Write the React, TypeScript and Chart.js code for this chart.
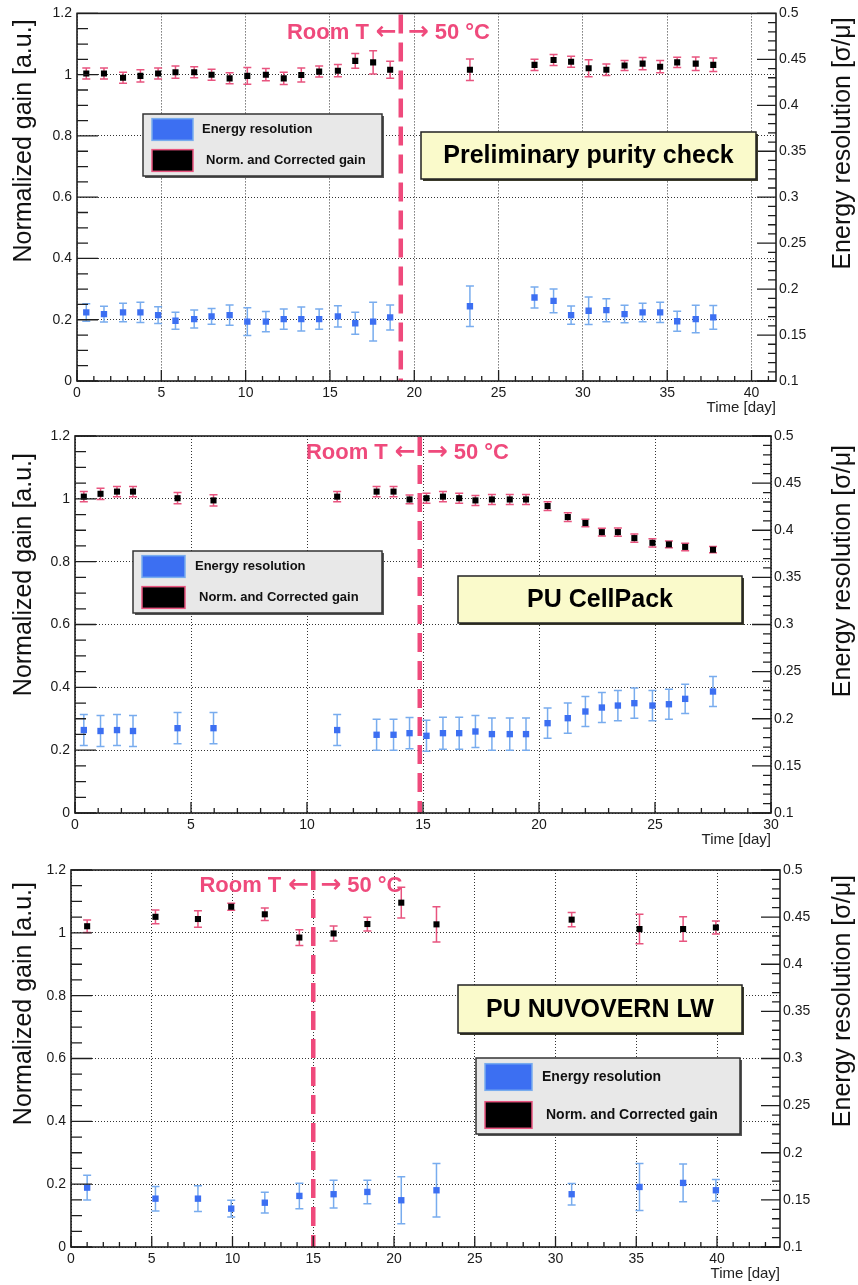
import React, { useEffect, useRef } from "react";
import { Chart, registerables } from "chart.js";

Chart.register(...registerables);
Chart.defaults.font.family = "'Liberation Sans', Arial, Helvetica, sans-serif";

// ---------------- DATA ----------------
const seriesLabels = ["Energy resolution", "Norm. and Corrected gain"];
const panelTitles = ["Preliminary purity check", "PU CellPack", "PU NUVOVERN LW"];
const gainAxisTitle = "Normalized gain [a.u.]";
const resAxisTitle = "Energy resolution [σ/μ]";
const timeAxisTitle = "Time [day]";
const roomLabel = "Room T";
const hotLabel = "50 °C";
const leftArrow = "←";
const rightArrow = "→";

const gainTicks = [0, 0.2, 0.4, 0.6, 0.8, 1, 1.2];
const gainTickLabels = ["0", "0.2", "0.4", "0.6", "0.8", "1", "1.2"];
const resTicks = [0.1, 0.15, 0.2, 0.25, 0.3, 0.35, 0.4, 0.45, 0.5];
const resTickLabels = ["0.1", "0.15", "0.2", "0.25", "0.3", "0.35", "0.4", "0.45", "0.5"];
const dayTicks40 = [0, 5, 10, 15, 20, 25, 30, 35, 40];
const dayTickLabels40 = ["0", "5", "10", "15", "20", "25", "30", "35", "40"];
const dayTicks30 = [0, 5, 10, 15, 20, 25, 30];
const dayTickLabels30 = ["0", "5", "10", "15", "20", "25", "30"];

const switchDays = [19.2, 14.86, 15.0];

// Panel 1: Preliminary purity check
const p1Days = [0.55, 1.6, 2.73, 3.76, 4.81, 5.84, 6.95, 7.98, 9.05, 10.1, 11.2, 12.26, 13.3, 14.36, 15.47, 16.5, 17.56, 18.57, 23.3, 27.13, 28.26, 29.3, 30.34, 31.39, 32.47, 33.54, 34.58, 35.59, 36.69, 37.73];
const p1Gain = [1.004, 1.004, 0.99, 0.996, 1.004, 1.008, 1.008, 1.0, 0.988, 0.996, 1.0, 0.988, 0.999, 1.01, 1.013, 1.045, 1.04, 1.016, 1.016, 1.032, 1.048, 1.042, 1.021, 1.016, 1.03, 1.036, 1.026, 1.04, 1.036, 1.032];
const p1GainErr = [0.018, 0.018, 0.018, 0.02, 0.018, 0.02, 0.018, 0.018, 0.018, 0.027, 0.02, 0.02, 0.023, 0.018, 0.02, 0.024, 0.038, 0.028, 0.035, 0.018, 0.018, 0.018, 0.028, 0.019, 0.016, 0.02, 0.02, 0.017, 0.022, 0.022];
const p1Res = [0.1746, 0.1728, 0.1746, 0.1746, 0.1717, 0.1656, 0.1674, 0.1703, 0.1717, 0.1646, 0.1646, 0.1674, 0.1674, 0.1674, 0.1703, 0.1628, 0.1646, 0.1692, 0.1814, 0.1908, 0.1872, 0.1717, 0.1764, 0.1771, 0.1728, 0.1746, 0.1746, 0.165, 0.1674, 0.1692];
const p1ResErr = [0.0095, 0.0085, 0.01, 0.011, 0.009, 0.0093, 0.0098, 0.0086, 0.011, 0.015, 0.011, 0.011, 0.013, 0.011, 0.0116, 0.012, 0.021, 0.0136, 0.022, 0.0115, 0.013, 0.01, 0.015, 0.0125, 0.0095, 0.01, 0.011, 0.011, 0.015, 0.013];

// Panel 2: PU CellPack
const p2Days = [0.38, 1.1, 1.81, 2.5, 4.42, 5.97, 11.3, 13.0, 13.73, 14.42, 15.15, 15.86, 16.56, 17.26, 17.97, 18.74, 19.44, 20.37, 21.24, 22.0, 22.71, 23.4, 24.11, 24.89, 25.6, 26.3, 27.5];
const p2Gain = [1.007, 1.016, 1.023, 1.023, 1.002, 0.995, 1.007, 1.023, 1.023, 0.998, 1.002, 1.007, 1.002, 0.995, 0.998, 0.998, 0.998, 0.977, 0.942, 0.923, 0.894, 0.894, 0.875, 0.86, 0.855, 0.847, 0.838];
const p2GainErr = [0.016, 0.018, 0.016, 0.016, 0.018, 0.018, 0.016, 0.016, 0.016, 0.014, 0.016, 0.016, 0.016, 0.016, 0.016, 0.016, 0.016, 0.014, 0.014, 0.012, 0.012, 0.013, 0.013, 0.013, 0.011, 0.012, 0.01];
const p2Res = [0.188, 0.187, 0.188, 0.187, 0.19, 0.19, 0.188, 0.183, 0.183, 0.1847, 0.1819, 0.1847, 0.1847, 0.1865, 0.1837, 0.1837, 0.1837, 0.1953, 0.2006, 0.2077, 0.2119, 0.214, 0.2165, 0.214, 0.2154, 0.2211, 0.2289];
const p2ResErr = [0.0165, 0.0165, 0.0165, 0.0165, 0.0165, 0.0165, 0.0165, 0.0165, 0.0165, 0.0165, 0.0165, 0.017, 0.017, 0.017, 0.017, 0.017, 0.017, 0.016, 0.016, 0.016, 0.016, 0.016, 0.016, 0.016, 0.016, 0.0155, 0.016];

// Panel 3: PU NUVOVERN LW
const p3Days = [1.0, 5.23, 7.86, 9.92, 12.0, 14.14, 16.26, 18.35, 20.45, 22.63, 31.0, 35.2, 37.9, 39.93];
const p3Gain = [1.021, 1.051, 1.044, 1.083, 1.059, 0.985, 0.998, 1.028, 1.096, 1.027, 1.042, 1.012, 1.012, 1.017];
const p3GainErr = [0.02, 0.022, 0.026, 0.011, 0.02, 0.025, 0.024, 0.022, 0.049, 0.056, 0.023, 0.047, 0.039, 0.021];
const p3Res = [0.163, 0.1513, 0.1513, 0.1407, 0.147, 0.1542, 0.156, 0.1584, 0.1496, 0.1602, 0.156, 0.1637, 0.168, 0.1602];
const p3ResErr = [0.013, 0.013, 0.0137, 0.009, 0.011, 0.0135, 0.0147, 0.0124, 0.025, 0.0285, 0.0115, 0.025, 0.02, 0.0115];

// ---------------- STYLE ----------------
const PINK = "#ef4a7c";
const ERR_PINK = "#e8547f";
const BLUE = "#3c6ff2";
const ERR_BLUE = "#78acee";
const FRAME = "#1e1e1e";
const FONT = "'Liberation Sans', Arial, Helvetica, sans-serif";
const ARROW_FONT = "'DejaVu Sans', 'Liberation Sans', sans-serif";

type Box = { x1: number; y1: number; x2: number; y2: number };
type LegendCfg = { x: number; y: number; w: number; h: number; swW: number; t1: number; t2: number; font: number };

type PanelCfg = {
  top: number;
  height: number;
  area: { left: number; right: number; top: number; bottom: number };
  xMax: number;
  days: number[];
  gain: number[];
  gainErr: number[];
  res: number[];
  resErr: number[];
  dayTicks: number[];
  dayTickLabels: string[];
  switchDay: number;
  title: string;
  titleBox: Box;
  legend: LegendCfg;
  leftTitleOff: number;
  rightTitleOff: number;
  tempY: number;
};

const W = 858;

const panels: PanelCfg[] = [
  {
    top: 0, height: 420,
    area: { left: 77, right: 776, top: 9, bottom: 381 },
    xMax: 41.45,
    days: p1Days, gain: p1Gain, gainErr: p1GainErr, res: p1Res, resErr: p1ResErr,
    dayTicks: dayTicks40, dayTickLabels: dayTickLabels40,
    switchDay: switchDays[0], title: panelTitles[0],
    titleBox: { x1: 421, y1: 132, x2: 756, y2: 179 },
    legend: { x: 143, y: 114, w: 239, h: 62, swW: 41, t1: 59, t2: 63, font: 13 },
    leftTitleOff: 6, rightTitleOff: 4, tempY: 18,
  },
  {
    top: 420, height: 430,
    area: { left: 75, right: 771, top: 16, bottom: 393 },
    xMax: 30,
    days: p2Days, gain: p2Gain, gainErr: p2GainErr, res: p2Res, resErr: p2ResErr,
    dayTicks: dayTicks30, dayTickLabels: dayTickLabels30,
    switchDay: switchDays[1], title: panelTitles[1],
    titleBox: { x1: 458, y1: 156, x2: 742, y2: 203 },
    legend: { x: 133, y: 131, w: 249, h: 62, swW: 43, t1: 62, t2: 66, font: 13 },
    leftTitleOff: 17, rightTitleOff: 9, tempY: 15,
  },
  {
    top: 850, height: 435,
    area: { left: 71, right: 780, top: 20, bottom: 397 },
    xMax: 43.9,
    days: p3Days, gain: p3Gain, gainErr: p3GainErr, res: p3Res, resErr: p3ResErr,
    dayTicks: dayTicks40, dayTickLabels: dayTickLabels40,
    switchDay: switchDays[2], title: panelTitles[2],
    titleBox: { x1: 458, y1: 135, x2: 742, y2: 183 },
    legend: { x: 476, y: 208, w: 264, h: 76, swW: 47, t1: 66, t2: 70, font: 14 },
    leftTitleOff: 12, rightTitleOff: 5, tempY: 14,
  },
];

function makePlugins(cfg: PanelCfg) {
  const errorBars = {
    id: "errorBars",
    beforeDatasetsDraw(chart: any) {
      const ctx = chart.ctx;
      chart.data.datasets.forEach((ds: any, i: number) => {
        const meta = chart.getDatasetMeta(i);
        const ys = chart.scales[meta.yAxisID];
        ctx.save();
        ctx.strokeStyle = ds.errColor;
        ctx.lineWidth = 1.5;
        meta.data.forEach((pt: any, j: number) => {
          const v = ds.data[j].y;
          const e = ds.errors[j];
          const y1 = ys.getPixelForValue(v - e);
          const y2 = ys.getPixelForValue(v + e);
          const x = pt.x;
          ctx.beginPath();
          ctx.moveTo(x, y1);
          ctx.lineTo(x, y2);
          ctx.moveTo(x - 4, y1);
          ctx.lineTo(x + 4, y1);
          ctx.moveTo(x - 4, y2);
          ctx.lineTo(x + 4, y2);
          ctx.stroke();
        });
        ctx.restore();
      });
    },
  };

  const frame = {
    id: "frame",
    afterDatasetsDraw(chart: any) {
      const { ctx, chartArea: a, scales } = chart;
      ctx.save();
      // dashed temperature switch line
      const sx = scales.x.getPixelForValue(cfg.switchDay);
      ctx.strokeStyle = PINK;
      ctx.lineWidth = 4.5;
      ctx.setLineDash([19, 9]);
      ctx.beginPath();
      ctx.moveTo(sx, a.top + 1);
      ctx.lineTo(sx, a.bottom);
      ctx.stroke();
      ctx.setLineDash([]);

      ctx.strokeStyle = FRAME;
      ctx.lineWidth = 1.3;
      ctx.beginPath();
      // x ticks (inward)
      const nDay = Math.floor(cfg.xMax + 1e-9);
      for (let k = 0; k <= nDay; k++) {
        const px = scales.x.getPixelForValue(k);
        const len = k % 5 === 0 ? 11 : 5;
        ctx.moveTo(px, a.bottom);
        ctx.lineTo(px, a.bottom - len);
      }
      // left axis ticks
      for (let k = 0; k <= 24; k++) {
        const py = scales.y.getPixelForValue(k * 0.05);
        const len = k % 4 === 0 ? 21 : 11;
        ctx.moveTo(a.left, py);
        ctx.lineTo(a.left + len, py);
      }
      // right axis ticks
      for (let k = 0; k <= 40; k++) {
        const py = scales.yR.getPixelForValue(0.1 + k * 0.01);
        const len = k % 5 === 0 ? 19 : 8;
        ctx.moveTo(a.right, py);
        ctx.lineTo(a.right - len, py);
      }
      ctx.stroke();
      ctx.lineWidth = 1.6;
      ctx.strokeRect(a.left, a.top, a.right - a.left, a.bottom - a.top);
      ctx.restore();
    },
    afterDraw(chart: any) {
      const { ctx, chartArea: a, scales } = chart;
      ctx.save();
      // axis titles
      ctx.fillStyle = "#111";
      ctx.font = `25px ${FONT}`;
      ctx.textBaseline = "middle";
      ctx.textAlign = "right";
      ctx.save();
      ctx.translate(24, a.top + cfg.leftTitleOff);
      ctx.rotate(-Math.PI / 2);
      ctx.fillText(gainAxisTitle, 0, 0);
      ctx.restore();
      ctx.save();
      ctx.translate(843, a.top + cfg.rightTitleOff);
      ctx.rotate(-Math.PI / 2);
      ctx.fillText(resAxisTitle, 0, 0);
      ctx.restore();
      ctx.font = `15px ${FONT}`;
      ctx.fillStyle = "#222";
      ctx.textAlign = "right";
      ctx.fillText(timeAxisTitle, a.right, a.bottom + 27);

      // temperature labels
      const sx = scales.x.getPixelForValue(cfg.switchDay);
      const ty = a.top + cfg.tempY;
      const base = ty + 8;
      ctx.fillStyle = PINK;
      ctx.textBaseline = "alphabetic";
      ctx.font = `bold 25px ${ARROW_FONT}`;
      const arrowW = ctx.measureText(leftArrow).width;
      ctx.textAlign = "right";
      ctx.fillText(leftArrow, sx - 4, base);
      ctx.textAlign = "left";
      ctx.fillText(rightArrow, sx + 7, base);
      ctx.font = `bold 22px ${FONT}`;
      ctx.textAlign = "right";
      ctx.fillText(roomLabel, sx - 4 - arrowW - 7, base);
      ctx.textAlign = "left";
      ctx.fillText(hotLabel, sx + 7 + arrowW + 6, base);
      ctx.textBaseline = "middle";

      // title box
      const b = cfg.titleBox;
      ctx.fillStyle = "#3a3a2a";
      ctx.fillRect(b.x1 + 2, b.y1 + 2, b.x2 - b.x1, b.y2 - b.y1);
      ctx.fillStyle = "#fafacb";
      ctx.fillRect(b.x1, b.y1, b.x2 - b.x1, b.y2 - b.y1);
      ctx.strokeStyle = "#222";
      ctx.lineWidth = 1.5;
      ctx.strokeRect(b.x1, b.y1, b.x2 - b.x1, b.y2 - b.y1);
      ctx.fillStyle = "#000";
      ctx.font = `bold 25px ${FONT}`;
      ctx.textAlign = "center";
      ctx.fillText(cfg.title, (b.x1 + b.x2) / 2, (b.y1 + b.y2) / 2 + 1);

      // legend
      const L = cfg.legend;
      ctx.fillStyle = "#555";
      ctx.fillRect(L.x + 2, L.y + 2, L.w, L.h);
      ctx.fillStyle = "#e8e8e8";
      ctx.fillRect(L.x, L.y, L.w, L.h);
      ctx.strokeStyle = "#333";
      ctx.lineWidth = 1.5;
      ctx.strokeRect(L.x, L.y, L.w, L.h);
      const swH = L.h * 0.35;
      const ds = chart.data.datasets;
      const rows = [L.y + L.h * 0.25, L.y + L.h * 0.75];
      const offs = [L.t1, L.t2];
      ds.forEach((d: any, i: number) => {
        const cy = rows[i];
        ctx.fillStyle = d.backgroundColor;
        ctx.fillRect(L.x + 9, cy - swH / 2, L.swW, swH);
        ctx.strokeStyle = d.errColor;
        ctx.lineWidth = 1.5;
        ctx.strokeRect(L.x + 9, cy - swH / 2, L.swW, swH);
        ctx.fillStyle = "#111";
        ctx.font = `bold ${L.font}px ${FONT}`;
        ctx.textAlign = "left";
        ctx.fillText(d.label, L.x + offs[i], cy);
      });
      ctx.restore();
    },
  };
  return [errorBars, frame];
}

function Panel({ cfg }: { cfg: PanelCfg }) {
  const ref = useRef<HTMLCanvasElement | null>(null);
  useEffect(() => {
    if (!ref.current) return;
    const a = cfg.area;
    const tickFont = { family: FONT, size: 14 };
    const chart = new Chart(ref.current, {
      type: "scatter",
      data: {
        datasets: [
          {
            label: seriesLabels[0],
            data: cfg.days.map((d, i) => ({ x: d, y: cfg.res[i] })),
            yAxisID: "yR",
            pointStyle: "rect",
            pointRadius: 4.5,
            backgroundColor: BLUE,
            borderColor: BLUE,
            borderWidth: 0,
            errors: cfg.resErr,
            errColor: ERR_BLUE,
          } as any,
          {
            label: seriesLabels[1],
            data: cfg.days.map((d, i) => ({ x: d, y: cfg.gain[i] })),
            yAxisID: "y",
            pointStyle: "rect",
            pointRadius: 4.3,
            backgroundColor: "#000",
            borderColor: "#000",
            borderWidth: 0,
            errors: cfg.gainErr,
            errColor: ERR_PINK,
          } as any,
        ],
      },
      options: {
        responsive: false,
        maintainAspectRatio: false,
        animation: false,
        events: [],
        layout: { padding: { top: a.top, left: 0, right: 0, bottom: 0 } },
        plugins: { legend: { display: false }, tooltip: { enabled: false } },
        scales: {
          x: {
            type: "linear",
            position: "bottom",
            min: 0,
            max: cfg.xMax,
            afterBuildTicks: (s: any) => {
              s.ticks = cfg.dayTicks.map((v) => ({ value: v }));
            },
            afterFit: (s: any) => {
              s.height = cfg.height - a.bottom;
            },
            grid: { color: "#333", lineWidth: 1, drawTicks: false },
            border: { display: false, dash: [1, 2] },
            ticks: {
              padding: 4,
              font: tickFont,
              color: "#1a1a1a",
              maxRotation: 0,
              autoSkip: false,
              callback: (_v: any, i: number) => cfg.dayTickLabels[i],
            },
          },
          y: {
            type: "linear",
            position: "left",
            min: 0,
            max: 1.2,
            afterBuildTicks: (s: any) => {
              s.ticks = gainTicks.map((v) => ({ value: v }));
            },
            afterFit: (s: any) => {
              s.width = a.left;
            },
            grid: { color: "#333", lineWidth: 1, drawTicks: false },
            border: { display: false, dash: [1, 2] },
            ticks: {
              padding: 5,
              font: tickFont,
              color: "#1a1a1a",
              autoSkip: false,
              callback: (_v: any, i: number) => gainTickLabels[i],
            },
          },
          yR: {
            type: "linear",
            position: "right",
            min: 0.1,
            max: 0.5,
            afterBuildTicks: (s: any) => {
              s.ticks = resTicks.map((v) => ({ value: v }));
            },
            afterFit: (s: any) => {
              s.width = W - a.right;
            },
            grid: { display: false, drawOnChartArea: false, drawTicks: false },
            border: { display: false },
            ticks: {
              padding: 3,
              font: tickFont,
              color: "#1a1a1a",
              autoSkip: false,
              callback: (_v: any, i: number) => resTickLabels[i],
            },
          },
        },
      } as any,
      plugins: makePlugins(cfg) as any,
    });
    return () => chart.destroy();
  }, [cfg]);
  return (
    <canvas
      ref={ref}
      width={W}
      height={cfg.height}
      style={{ position: "absolute", left: 0, top: cfg.top, width: W, height: cfg.height, display: "block" }}
    />
  );
}

export default function App() {
  return (
    <div style={{ position: "absolute", left: 0, top: 0, width: W, height: 1285, background: "#fff" }}>
      {panels.map((p, i) => (
        <Panel key={i} cfg={p} />
      ))}
    </div>
  );
}
